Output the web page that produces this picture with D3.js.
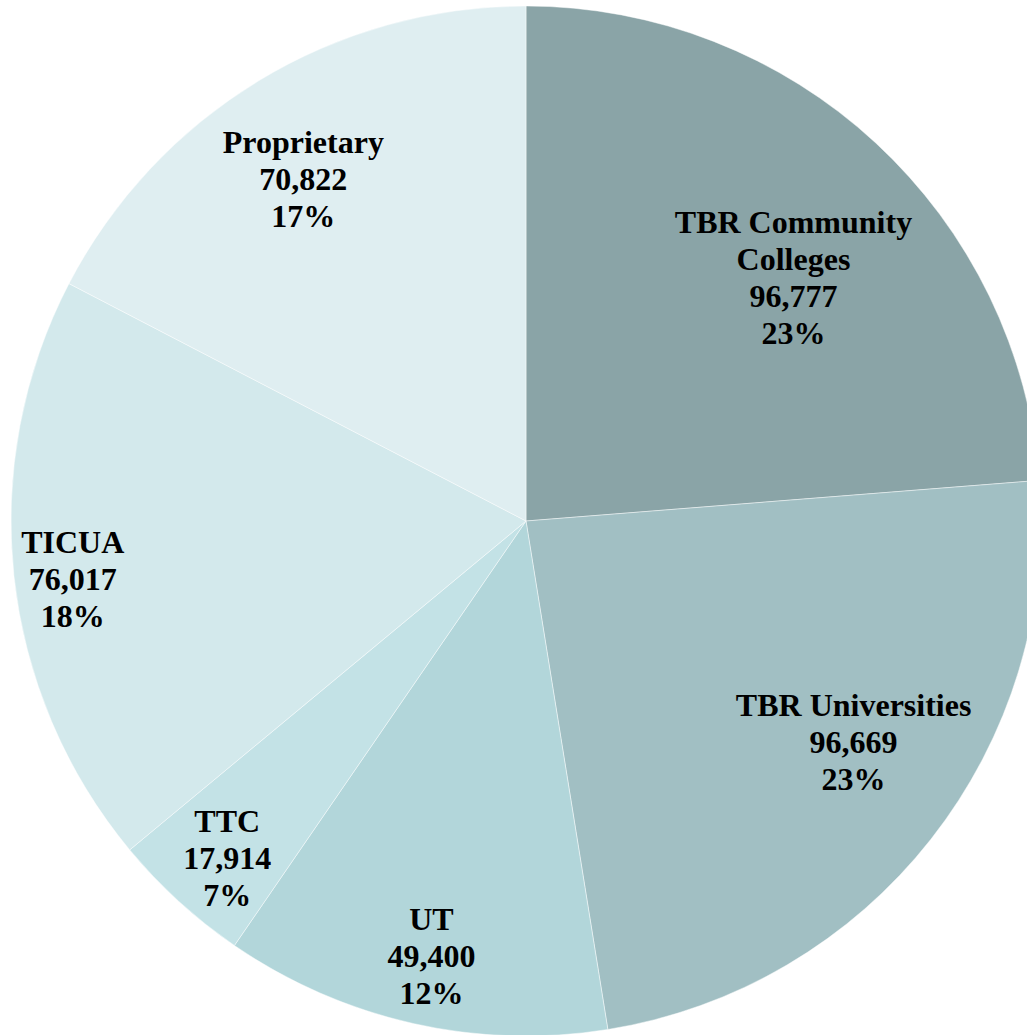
<!DOCTYPE html>
<html>
<head>
<meta charset="utf-8">
<script src="https://cdn.jsdelivr.net/npm/d3@7"></script>
<style>
  html, body { margin: 0; padding: 0; background: #fff; overflow: hidden; }
  svg { display: block; }
</style>
</head>
<body>
<svg id="canvas"></svg>
<script>
let categories = ["TBR Community Colleges", "TBR Universities", "UT", "TTC", "TICUA", "Proprietary"]
let values = [96777, 96669, 49400, 17914, 76017, 70822]
let percentLabels = ["23%", "23%", "12%", "7%", "18%", "17%"]
let colors = ["#8aa4a7", "#a1bfc3", "#b2d6da", "#c3e2e6", "#d3e9ec", "#dfeef1"]

let width = 1027
let height = 1035
let cx = 526
let cy = 521
let radius = 515
// label placement: distance from centre and a small turn off the slice middle (degrees)
let labelRadius = [362, 395, 445, 450, 457, 408]
let labelTurn = [4.9, -4.2, -0.4, -0.8, -1.2, -1.8]
let wrapWidth = 300
let fontSize = 32
let lineHeight = 37

let svg = d3.select('#canvas').attr('width', width).attr('height', height)

let g = svg.append('g').attr('transform', 'translate(' + cx + ',' + cy + ')')

let pie = d3.pie().sort(null).value(d => d)
let arcs = pie(values)

let arc = d3.arc().innerRadius(0).outerRadius(radius)

g.selectAll('path')
  .data(arcs)
  .enter()
  .append('path')
  .attr('d', arc)
  .attr('fill', (d, i) => colors[i])
  .attr('stroke', 'rgba(255,255,255,0.45)')
  .attr('stroke-width', 1)

let fmt = d3.format(',')

// measure to wrap long names like excel does
let measure = svg.append('text')
  .attr('font-family', '"Liberation Serif", "Times New Roman", serif')
  .attr('font-weight', 'bold')
  .attr('font-size', fontSize)

let textWidth = s => {
  measure.text(s)
  return measure.node().getComputedTextLength()
}

let wrap = (name) => {
  if (textWidth(name) <= wrapWidth) return [name]
  let lines = []
  let cur = ''
  name.split(' ').forEach(w => {
    let test = cur ? cur + ' ' + w : w
    if (textWidth(test) > wrapWidth && cur) {
      lines.push(cur)
      cur = w
    } else {
      cur = test
    }
  })
  lines.push(cur)
  return lines
}

arcs.forEach((d, i) => {
  let lines = wrap(categories[i]).concat([fmt(values[i]), percentLabels[i]])
  let mid = (d.startAngle + d.endAngle) / 2 + labelTurn[i] * Math.PI / 180
  let lx = Math.sin(mid) * labelRadius[i]
  let ly = -Math.cos(mid) * labelRadius[i]
  let top = ly - (lines.length - 1) * lineHeight / 2
  let t = g.append('text')
    .attr('text-anchor', 'middle')
    .attr('font-family', '"Liberation Serif", "Times New Roman", serif')
    .attr('font-weight', 'bold')
    .attr('font-size', fontSize)
    .attr('fill', '#000')
  lines.forEach((ln, k) => {
    t.append('tspan')
      .attr('x', lx)
      .attr('y', top + k * lineHeight + 11)
      .text(ln)
  })
})

measure.remove()
</script>
</body>
</html>
